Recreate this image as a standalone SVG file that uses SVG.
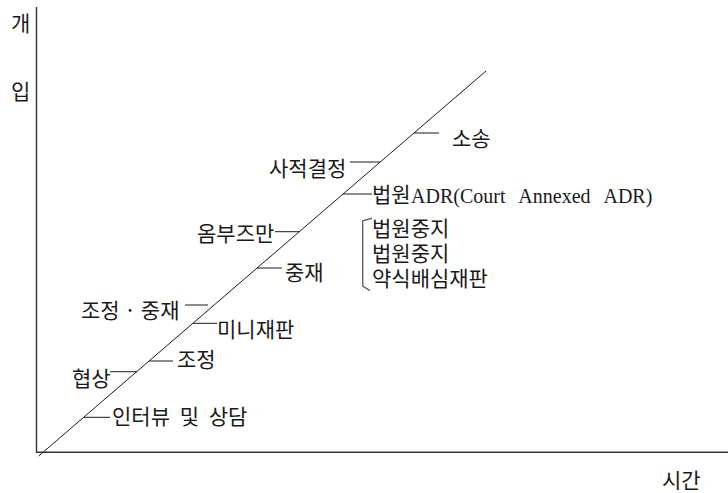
<svg xmlns="http://www.w3.org/2000/svg" width="728" height="493" viewBox="0 0 728 493">
<style>
.t{font-family:"Noto Sans CJK KR","Noto Sans",sans-serif;font-size:21px;fill:#1a1a1a}
.s{font-family:"Liberation Serif","Noto Sans CJK KR",serif;font-size:20px;fill:#1a1a1a}
.ax{stroke:#333;stroke-width:1.4;fill:none}
.ln{stroke:#1a1a1a;stroke-width:1;fill:none}
.br{stroke:#666;stroke-width:1.4;fill:none}
</style>
<rect width="728" height="493" fill="#fff"/>
<g id="axes">
<line class="ax" x1="36.5" y1="7" x2="36.5" y2="452"/>
<line class="ax" x1="36" y1="452.3" x2="728" y2="452.3"/>
<text class="t" x="11" y="31">개</text>
<text class="t" x="11" y="99">입</text>
<text class="t" x="662" y="488">시간</text>
</g>
<g id="connectors">
<line class="ln" x1="38.7" y1="456" x2="486" y2="71"/>
<line class="ln" x1="414" y1="133" x2="439" y2="133"/>
<line class="ln" x1="350" y1="162" x2="380" y2="162"/>
<line class="ln" x1="343" y1="194" x2="372" y2="194"/>
<line class="ln" x1="275" y1="231.7" x2="299" y2="231.7"/>
<line class="ln" x1="257" y1="268" x2="282" y2="268"/>
<line class="ln" x1="185" y1="305" x2="208" y2="305"/>
<line class="ln" x1="193" y1="323.3" x2="217" y2="323.3"/>
<line class="ln" x1="149" y1="361" x2="173" y2="361"/>
<line class="ln" x1="110" y1="371.7" x2="137" y2="371.7"/>
<line class="ln" x1="84" y1="417.3" x2="110" y2="417.3"/>
<path class="br" d="M372 218.3 L362.7 220.7 L362.7 286 L370 290.7"/>
</g>
<g id="n-sosong"><text class="t" x="452" y="146">소송</text></g>
<g id="n-sajeok"><text class="t" x="269" y="176">사적결정</text></g>
<g id="n-court-adr"><text class="t" x="372" y="202">법원</text><text class="s" x="411" y="203" word-spacing="9">ADR(Court Annexed ADR)</text></g>
<g id="n-court-1"><text class="t" x="372" y="235.5">법원중지</text></g>
<g id="n-court-2"><text class="t" x="372" y="261">법원중지</text></g>
<g id="n-jury"><text class="t" x="372" y="286">약식배심재판</text></g>
<g id="n-ombudsman"><text class="t" x="197" y="241">옴부즈만</text></g>
<g id="n-arbitration"><text class="t" x="285" y="280">중재</text></g>
<g id="n-med-arb"><text class="t" x="81" y="318">조정 · 중재</text></g>
<g id="n-minitrial"><text class="t" x="217" y="337">미니재판</text></g>
<g id="n-mediation"><text class="t" x="177" y="367">조정</text></g>
<g id="n-negotiation"><text class="t" x="72" y="386">협상</text></g>
<g id="n-interview"><text class="t" x="112" y="424" word-spacing="5">인터뷰 및 상담</text></g>
</svg>
